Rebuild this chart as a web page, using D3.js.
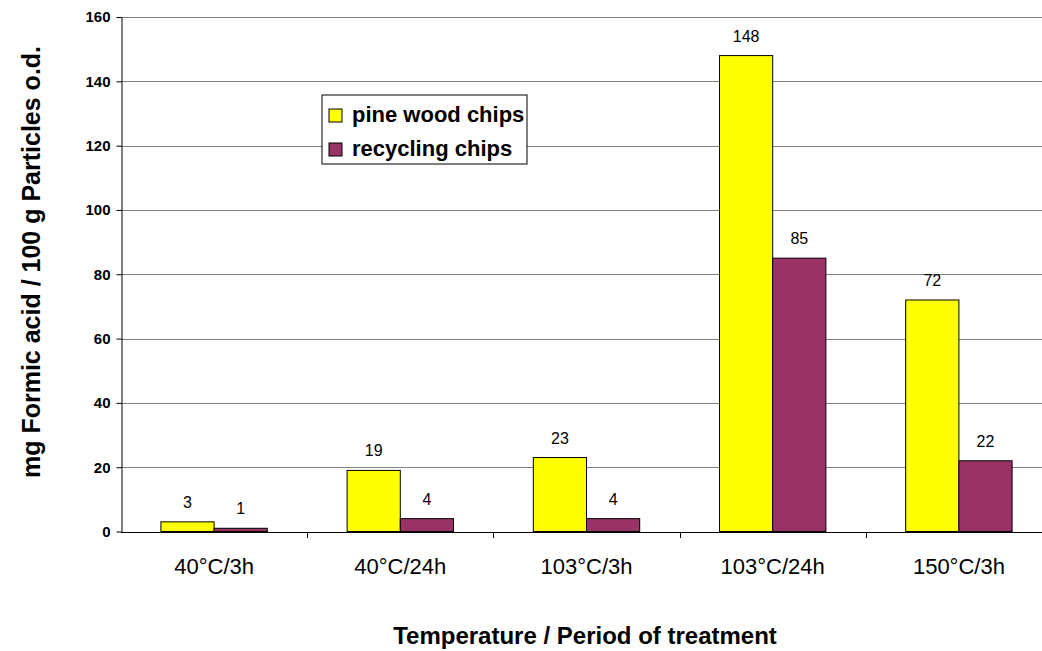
<!DOCTYPE html>
<html>
<head>
<meta charset="utf-8">
<script src="https://cdn.jsdelivr.net/npm/d3@7"></script>
<style>
  body { margin: 0; background: #fff; }
  svg { font-family: "Liberation Sans", Arial, sans-serif; }
</style>
</head>
<body>
<svg id="chart"></svg>
<script>
const categories = ["40°C/3h", "40°C/24h", "103°C/3h", "103°C/24h", "150°C/3h"];
const seriesNames = ["pine wood chips", "recycling chips"];
const pineValues = [3, 19, 23, 148, 72];
const recyclingValues = [1, 4, 4, 85, 22];
const yTicks = [0, 20, 40, 60, 80, 100, 120, 140, 160];

let svgWidth = 1042, svgHeight = 651;
let plotLeft = 121, plotRight = 1052, plotTop = 17, plotBottom = 531.5;
let colors = ["#ffff00", "#993366"];

let svg = d3.select("#chart").attr("width", svgWidth).attr("height", svgHeight);

let x0 = d3.scaleBand().domain(categories).range([plotLeft, plotRight])
    .paddingInner(0.4286).paddingOuter(0.2143);
let x1 = d3.scaleBand().domain(seriesNames).range([0, x0.bandwidth()]);
let y = d3.scaleLinear().domain([0, 160]).range([plotBottom, plotTop]);

// gridlines
svg.append("g").selectAll("line")
    .data(yTicks.filter(d => d > 0)).enter().append("line")
    .attr("x1", plotLeft).attr("x2", svgWidth)
    .attr("y1", d => Math.round(y(d)) + 0.5).attr("y2", d => Math.round(y(d)) + 0.5)
    .attr("stroke", "#808080").attr("stroke-width", 1);

// y axis
let yAxis = svg.append("g")
    .attr("transform", "translate(" + (plotLeft + 0.5) + ",0)")
    .call(d3.axisLeft(y).tickValues(yTicks).tickSize(5).tickSizeOuter(0));
yAxis.select(".domain").attr("stroke", "#000");
yAxis.selectAll(".tick line").attr("stroke", "#000");
yAxis.selectAll("text").attr("font-size", 15).attr("font-weight", "bold")
    .attr("fill", "#000").attr("x", -11).attr("font-family", "Liberation Sans, Arial, sans-serif");

// x axis
let xAxis = svg.append("g")
    .attr("transform", "translate(0," + (Math.round(plotBottom) + 0.5) + ")")
    .call(d3.axisBottom(x0).tickSize(0).tickSizeOuter(0));
xAxis.select(".domain").attr("stroke", "#000").attr("d", "M" + plotLeft + ",0H" + svgWidth);
xAxis.selectAll("text").attr("font-size", 22).attr("fill", "#000")
    .attr("y", 41).attr("dy", 0).attr("font-family", "Liberation Sans, Arial, sans-serif");
// category separator ticks
let step = x0.step();
svg.append("g").selectAll("line")
    .data(categories.slice(1)).enter().append("line")
    .attr("x1", d => Math.round(x0(d) - x0.paddingInner() * step / 2) + 0.5)
    .attr("x2", d => Math.round(x0(d) - x0.paddingInner() * step / 2) + 0.5)
    .attr("y1", Math.round(plotBottom)).attr("y2", Math.round(plotBottom) + 6)
    .attr("stroke", "#000");

// bars
let rows = categories.map((c, i) => ({cat: c, vals: [pineValues[i], recyclingValues[i]]}));
let groups = svg.append("g").selectAll("g")
    .data(rows).enter().append("g")
    .attr("transform", d => "translate(" + x0(d.cat) + ",0)");
groups.selectAll("rect")
    .data(d => d.vals.map((v, j) => ({name: seriesNames[j], v: v, j: j}))).enter().append("rect")
    .attr("x", d => x1(d.name))
    .attr("y", d => y(d.v))
    .attr("width", x1.bandwidth())
    .attr("height", d => plotBottom - y(d.v))
    .attr("fill", d => colors[d.j])
    .attr("stroke", "#000").attr("stroke-width", 1);
groups.selectAll("text")
    .data(d => d.vals.map((v, j) => ({name: seriesNames[j], v: v}))).enter().append("text")
    .attr("x", d => x1(d.name) + x1.bandwidth() / 2)
    .attr("y", d => y(d.v) - 14)
    .attr("text-anchor", "middle")
    .attr("font-size", 16).attr("fill", "#000")
    .text(d => d.v);

// legend
let legend = svg.append("g").attr("transform", "translate(322,95)");
legend.append("rect").attr("width", 205).attr("height", 69)
    .attr("fill", "#fff").attr("stroke", "#000").attr("stroke-width", 1);
seriesNames.forEach((n, i) => {
    let ly = 20 + i * 34;
    legend.append("rect").attr("x", 7).attr("y", ly - 6).attr("width", 13).attr("height", 13)
        .attr("fill", colors[i]).attr("stroke", "#000");
    legend.append("text").attr("x", 30).attr("y", ly + 7)
        .attr("font-size", 22).attr("font-weight", "bold").attr("fill", "#000")
        .text(n);
});

// axis titles
svg.append("text")
    .attr("transform", "translate(40,262) rotate(-90)")
    .attr("text-anchor", "middle").attr("font-size", 25).attr("font-weight", "bold")
    .text("mg Formic acid / 100 g Particles o.d.");
svg.append("text")
    .attr("x", 585).attr("y", 644)
    .attr("text-anchor", "middle").attr("font-size", 24).attr("font-weight", "bold")
    .text("Temperature / Period of treatment");
</script>
</body>
</html>
